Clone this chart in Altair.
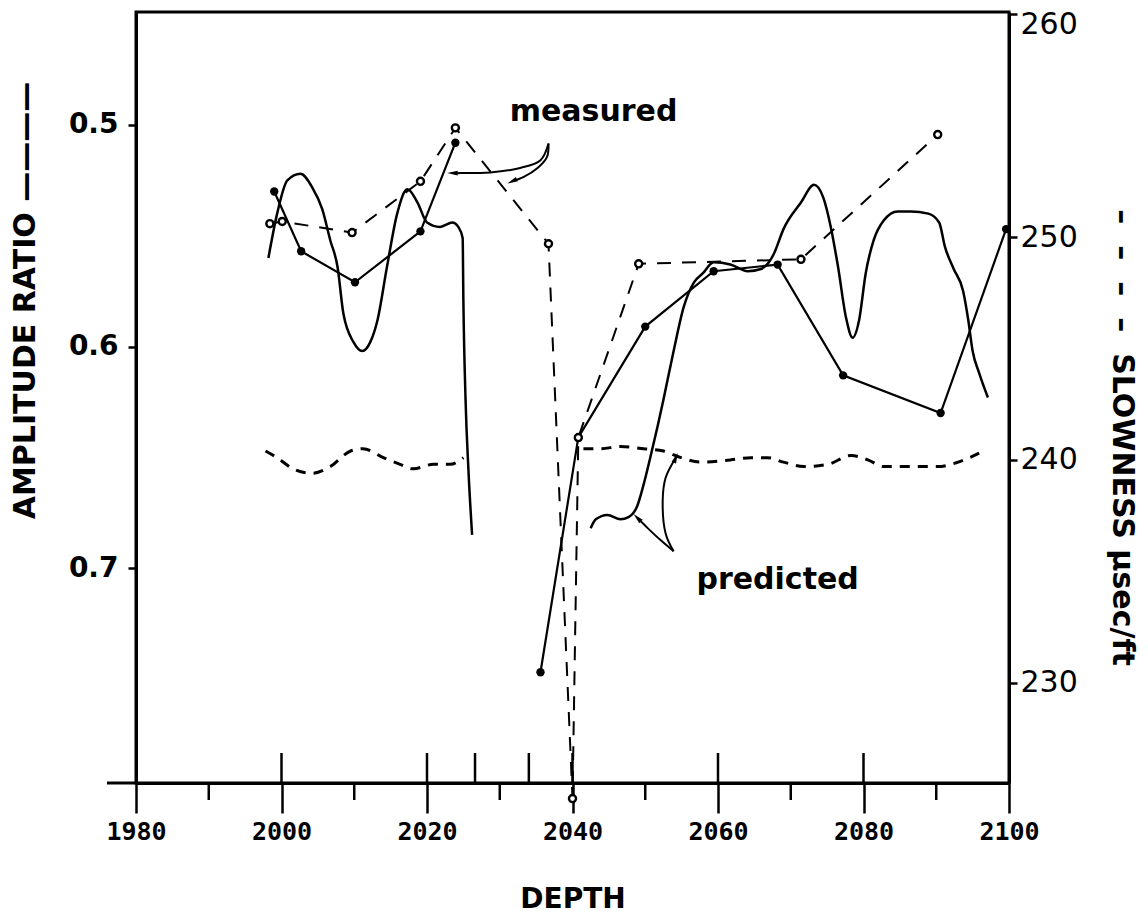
import altair as alt
import pandas as pd

# ---------------- data ----------------
# measured amplitude ratio (solid line with dots), two runs
ma1_depth = [1999.0, 2002.7, 2010.1, 2019.1, 2023.9]
ma1_amp = [0.530, 0.557, 0.571, 0.548, 0.508]
ma2_depth = [2035.6, 2040.8, 2050.0, 2059.4, 2068.2, 2077.2, 2090.6, 2099.6]
ma2_amp = [0.747, 0.641, 0.591, 0.566, 0.563, 0.613, 0.630, 0.547]

# predicted amplitude ratio (smooth solid curve), two runs
pa1_depth = [1998.2, 1999.4, 2000.8, 2002.6, 2004.2, 2005.6, 2006.7, 2007.7, 2008.5,
             2009.9, 2011.1, 2012.2, 2013.2, 2014.5, 2015.9, 2017.3, 2018.7, 2020.0,
             2021.8, 2023.5, 2024.3, 2024.9, 2025.0, 2025.3, 2025.7, 2026.2]
pa1_amp = [0.560, 0.540, 0.525, 0.522, 0.528, 0.538, 0.552, 0.564, 0.585,
           0.598, 0.602, 0.598, 0.588, 0.564, 0.540, 0.529, 0.535, 0.544,
           0.546, 0.544, 0.546, 0.551, 0.579, 0.624, 0.656, 0.685]
pa2_depth = [2042.5, 2043.2, 2044.8, 2046.6, 2047.7, 2048.9, 2049.8, 2050.7, 2051.7,
             2052.5, 2053.9, 2055.3, 2056.7, 2057.9, 2059.4, 2061.7, 2064.1, 2065.9,
             2067.0, 2067.7, 2069.0, 2071.4, 2073.2, 2074.5, 2075.5, 2076.5, 2077.6,
             2078.5, 2079.4, 2080.3, 2081.4, 2082.8, 2084.7, 2086.5, 2088.9, 2090.4,
             2091.2, 2092.4, 2093.7, 2094.4, 2095.0, 2095.9, 2097.1]
pa2_amp = [0.682, 0.678, 0.676, 0.678, 0.677, 0.672, 0.662, 0.650, 0.636,
           0.624, 0.602, 0.582, 0.571, 0.567, 0.562, 0.563, 0.566, 0.565,
           0.562, 0.558, 0.547, 0.535, 0.527, 0.533, 0.546, 0.564, 0.587,
           0.596, 0.588, 0.567, 0.552, 0.543, 0.539, 0.539, 0.540, 0.544,
           0.555, 0.565, 0.575, 0.588, 0.602, 0.612, 0.623]

# measured slowness (dashed line with open circles)
ms_depth = [1998.4, 2000.1, 2009.7, 2019.1, 2023.9, 2036.7, 2040.0, 2040.8, 2049.1, 2071.4, 2090.2]
ms_slow = [250.6, 250.7, 250.2, 252.5, 254.9, 249.7, 224.8, 241.0, 248.8, 249.0, 254.6]

# predicted slowness (wavy dashed curve), two runs
ps1_depth = [1997.8, 1999.4, 2001.6, 2004.2, 2006.7, 2009.5, 2011.2, 2014.0, 2016.3,
             2018.1, 2020.9, 2023.2, 2025.0]
ps1_slow = [240.4, 240.1, 239.6, 239.4, 239.7, 240.4, 240.5, 240.1, 239.8,
            239.6, 239.8, 239.8, 240.1]
ps2_depth = [2041.5, 2043.9, 2046.6, 2049.8, 2052.5, 2054.9, 2057.6, 2061.7, 2064.5,
             2066.8, 2069.0, 2071.8, 2075.1, 2078.3, 2080.6, 2082.8, 2086.5, 2090.2,
             2093.0, 2095.9]
ps2_slow = [240.5, 240.5, 240.6, 240.5, 240.4, 240.1, 239.9, 240.0, 240.1,
            240.1, 239.9, 239.7, 239.8, 240.2, 240.0, 239.7, 239.7, 239.7,
            239.9, 240.3]

# annotation arrows (in depth / slowness units)
arr_m1_depth = [2036.7, 2035.6, 2032.8, 2028.7, 2024.6, 2023.5]
arr_m1_slow = [254.2, 253.45, 253.1, 252.9, 252.87, 252.87]
arr_m2_depth = [2036.7, 2036.5, 2035.2, 2033.3, 2031.7]
arr_m2_slow = [254.2, 253.6, 253.1, 252.7, 252.5]
arr_p1_depth = [2053.9, 2052.1, 2050.3, 2048.9]
arr_p1_slow = [235.9, 236.4, 236.95, 237.4]
arr_p2_depth = [2053.9, 2052.8, 2052.4, 2052.8, 2054.2]
arr_p2_slow = [235.9, 236.7, 238.2, 239.2, 240.1]

labels_text = ["measured", "predicted"]
labels_depth = [2042.9, 2068.2]
labels_slow = [255.6, 234.6]

# axis ticks
x_major = [1980, 2000, 2020, 2040, 2060, 2080, 2100]
x_minor = [1990, 2010, 2030, 2050, 2070, 2090]
x_marks = [2000, 2020, 2026.6, 2034, 2040, 2060, 2080]
amp_ticks = [0.5, 0.6, 0.7]
slow_ticks = [230, 240, 250, 260]

# ---------------- tables ----------------
def seg_df(runs, col):
    rows = []
    for k, (ds, vs) in enumerate(runs):
        for i, (d, v) in enumerate(zip(ds, vs)):
            rows.append({"depth": d, col: v, "seg": k, "idx": i})
    return pd.DataFrame(rows)

ma_df = seg_df([(ma1_depth, ma1_amp), (ma2_depth, ma2_amp)], "amp")
pa_df = seg_df([(pa1_depth, pa1_amp), (pa2_depth, pa2_amp)], "amp")
ms_df = seg_df([(ms_depth, ms_slow)], "slow")
ps_df = seg_df([(ps1_depth, ps1_slow), (ps2_depth, ps2_slow)], "slow")
arr_df = seg_df([(arr_m1_depth, arr_m1_slow), (arr_m2_depth, arr_m2_slow),
                 (arr_p1_depth, arr_p1_slow), (arr_p2_depth, arr_p2_slow)], "slow")
lab_df = pd.DataFrame({"depth": labels_depth, "slow": labels_slow, "txt": labels_text})
minor_df = pd.DataFrame({"depth": x_minor})
marks_df = pd.DataFrame({"depth": x_marks})
tips = [(arr_m1_depth[-1], arr_m1_slow[-1], 270),
        (arr_m2_depth[-1], arr_m2_slow[-1], 245),
        (arr_p1_depth[-1], arr_p1_slow[-1], 315),
        (arr_p2_depth[-1], arr_p2_slow[-1], 22)]

W, H = 873, 771

x_scale = alt.Scale(domain=[1980, 2100], nice=False, zero=False)
x_axis = alt.Axis(values=x_major, format="d", tickSize=30, tickWidth=2.5, tickColor="black",
                  domainColor="black", domainWidth=3, labelFont="DejaVu Sans Mono",
                  labelFontSize=25, labelFontWeight="bold", labelColor="black",
                  labelPadding=6, labelFlush=False, labelOverlap=False, grid=False,
                  title="DEPTH", titleFont="DejaVu Sans", titleFontSize=28,
                  titleFontWeight="bold", titleColor="black", titleY=116,
                  titleBaseline="middle")

amp_scale = alt.Scale(domain=[0.449, 0.797], reverse=True, nice=False, zero=False)
amp_axis = alt.Axis(orient="left", values=amp_ticks, format=".1f", tickSize=8, tickWidth=2.5,
                    tickColor="black", domainColor="black", domainWidth=3,
                    labelFont="DejaVu Sans", labelFontSize=28, labelFontWeight="bold",
                    labelColor="black", labelPadding=10, labelFlush=False, grid=False,
                    title="AMPLITUDE RATIO \u2014\u2014\u2014\u2014",
                    titleFont="DejaVu Sans", titleFontSize=30, titleFontWeight="bold",
                    titleColor="black", titleAngle=270, titleX=-111, titleY=288,
                    titleAlign="center", titleBaseline="middle")

slow_scale = alt.Scale(domain=[225.5, 260.1], nice=False, zero=False)
gap = "\u2002\u2009"
slow_axis = alt.Axis(orient="right", values=slow_ticks, format="d", tickSize=8, tickWidth=2.5,
                     tickColor="black", domainColor="black", domainWidth=3,
                     labelFont="DejaVu Sans", labelFontSize=30, labelColor="black",
                     labelPadding=3, labelFlush=False, grid=False,
                     labelOffset={"condition": {"test": "datum.value == 260", "value": 10}, "value": 0},
                     title=("\u2013" + gap) * 4 + "SLOWNESS \u03bcsec/ft",
                     titleFont="DejaVu Sans", titleFontSize=30, titleFontWeight="bold",
                     titleColor="black", titleAngle=90, titleX=112, titleY=425,
                     titleAlign="center", titleBaseline="middle")

X = alt.X("depth:Q", scale=x_scale, axis=x_axis)
YA = alt.Y("amp:Q", scale=amp_scale, axis=amp_axis)
YS = alt.Y("slow:Q", scale=slow_scale, axis=slow_axis)

# ---------------- amplitude layers ----------------
ma_line = alt.Chart(ma_df).mark_line(color="black", strokeWidth=2.2).encode(
    x=X, y=YA, detail="seg:N", order="idx:Q")
ma_pts = alt.Chart(ma_df).mark_circle(color="black", size=70, opacity=1).encode(x=X, y=YA)
pa_line = alt.Chart(pa_df).mark_line(color="black", strokeWidth=2.5, interpolate="monotone").encode(
    x=X, y=YA, detail="seg:N", order="idx:Q")

minor_rules = alt.Chart(minor_df).mark_rule(color="black", strokeWidth=2.5).encode(
    x=X, y=alt.value(H), y2=alt.value(H + 17))
mark_rules = alt.Chart(marks_df).mark_rule(color="black", strokeWidth=2.5).encode(
    x=X, y=alt.value(H - 30), y2=alt.value(H))
ext_rule = alt.Chart(pd.DataFrame({"k": [0]})).mark_rule(color="black", strokeWidth=3).encode(
    x=alt.value(-29), x2=alt.value(0), y=alt.value(H))

amp_layer = alt.layer(pa_line, ma_line, ma_pts, minor_rules, mark_rules, ext_rule)

# ---------------- slowness layers ----------------
ps_line = alt.Chart(ps_df).mark_line(color="black", strokeWidth=3, strokeDash=[10, 8],
                                     interpolate="monotone").encode(
    x=X, y=YS, detail="seg:N", order="idx:Q")
ms_line = alt.Chart(ms_df).mark_line(color="black", strokeWidth=2, strokeDash=[14, 11]).encode(
    x=X, y=YS, order="idx:Q")
ms_pts = alt.Chart(ms_df).mark_point(shape="circle", fill="white", fillOpacity=1, stroke="black",
                                     strokeWidth=2.4, size=50, opacity=1, filled=True).encode(
    x=X, y=YS)
arr_lines = alt.Chart(arr_df).mark_line(color="black", strokeWidth=2,
                                        interpolate="catmull-rom").encode(
    x=X, y=YS, detail="seg:N", order="idx:Q")
heads = []
for d, s, ang in tips:
    heads.append(alt.Chart(pd.DataFrame({"depth": [d], "slow": [s]})).mark_point(
        shape="M0,-1L0.45,1L-0.45,1Z", filled=True, color="black", opacity=1,
        size=110, angle=ang).encode(x=X, y=YS))
texts = alt.Chart(lab_df).mark_text(font="DejaVu Sans", fontSize=30, fontWeight="bold",
                                    color="black").encode(
    x=X, y=YS, text="txt:N")

slow_layer = alt.layer(ps_line, ms_line, ms_pts, arr_lines, *heads, texts)

chart = alt.layer(amp_layer, slow_layer).resolve_scale(y="independent").properties(
    width=W, height=H,
    autosize=alt.AutoSizeParams(type="none"),
    padding={"left": 128, "top": 4, "right": 131, "bottom": 130},
).configure(background="white", view=alt.ViewConfig(stroke="black", strokeWidth=3))

chart.save("out.html", embed_options={"renderer": "svg", "actions": False})
